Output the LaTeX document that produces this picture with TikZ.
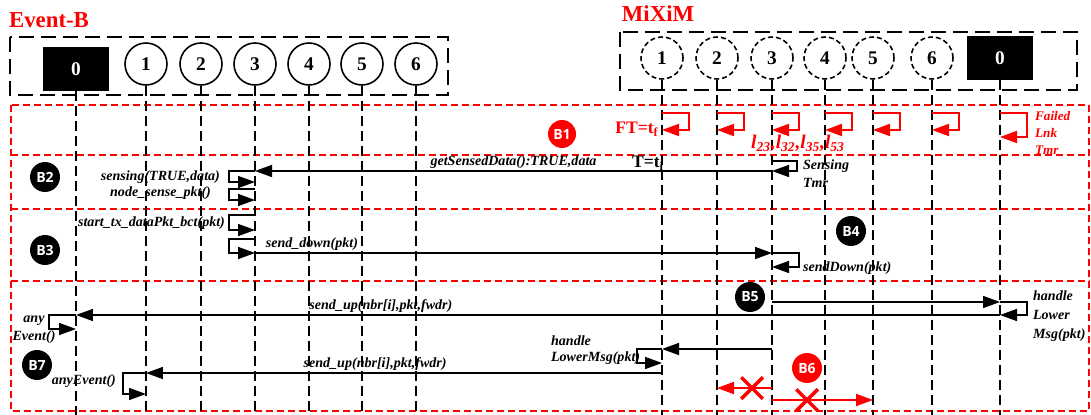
\documentclass[tikz,border=0pt]{standalone}
\usepackage{fontspec}
\setmainfont{Liberation Serif}
\newfontfamily\tagfont{Open Sans}
\usetikzlibrary{arrows.meta,positioning,shapes.misc}

\begin{document}
\begin{tikzpicture}[x=0.02cm,y=-0.02cm,
  grp/.style={draw,line width=1.6pt,dash pattern=on 0.3cm off 0.14cm},
  ndc/.style={circle,draw,line width=0.9pt,minimum size=0.84cm,inner sep=0pt,font=\fontsize{11}{12}\selectfont\bfseries},
  ndd/.style={ndc,dash pattern=on 0.1cm off 0.06cm},
  sink/.style={fill=black,text=white,minimum width=1.32cm,minimum height=0.88cm,inner sep=0pt,font=\fontsize{11}{12}\selectfont\bfseries},
  life/.style={line width=0.85pt,dash pattern=on 0.2cm off 0.1cm},
  zone/.style={draw=red,line width=0.8pt,dash pattern=on 0.14cm off 0.08cm},
  msg/.style={-{Triangle[length=0.34cm,width=0.24cm]},line width=0.9pt},
  rmsg/.style={msg,red,line width=1.1pt},
  lbl/.style={font=\fontsize{8}{10}\selectfont\bfseries\itshape,inner sep=1pt},
  tag/.style={circle,fill=black,text=white,minimum size=0.6cm,inner sep=0pt,font=\tagfont\fontsize{8}{9}\selectfont\bfseries},
  hdr/.style={text=red,font=\fontsize{13}{15}\selectfont\bfseries},
  cross/.style={draw=red,cross out,line width=2pt,minimum size=0.36cm,inner sep=0pt}]
\useasboundingbox (0,0) rectangle (1091,415);
% groups
\node[hdr] (ebt) at (49,20) {Event-B};
\node[hdr] (mxt) at (658,14) {MiXiM};
\draw[grp] (10,37) rectangle (448,95);
\draw[grp] (620,32) rectangle (1077,90);
\node[sink] (eb0) at (76,69) {0};
\foreach \i/\x in {1/146,2/201,3/255,4/309,5/362,6/416}
  \node[ndc] (eb\i) at (\x,64) {\i};
\foreach \i/\x in {1/662,2/717,3/772,4/825,5/873,6/932}
  \node[ndd] (mx\i) at (\x,58) {\i};
\node[sink] (mx0) at (1000,58) {0};
% lifelines and phases
\coordinate (bot) at (0,415);
\draw[zone] (11,105) rectangle (1089,411);
\foreach \y in {155,209,281} \draw[zone] (11,\y) -- (1089,\y);
\foreach \n in {eb0,eb1,eb2,eb3,eb4,eb5,eb6,mx0,mx1,mx2,mx3,mx4,mx5,mx6}
  \draw[life] (\n.south) -- (\n |- bot);
% B1
\node[tag,fill=red,minimum size=0.56cm] (b1) at (562,134) {B1};
\node[text=red,font=\fontsize{10}{12}\selectfont\bfseries] (ft) at (637,129) {FT=t\textsubscript{f}};
\foreach \n in {mx1,mx2,mx3,mx4,mx5,mx6}
  \draw[rmsg] (\n |- 0,113) -- ++(27,0) -- ++(0,17) -- (\n |- 0,130);
\draw[rmsg] (mx0 |- 0,113) -- ++(27,0) -- ++(0,24) -- (mx0 |- 0,137);
\node[text=red,font=\fontsize{11}{12}\selectfont\bfseries\itshape] (lnk) at (798,143) {l\textsubscript{23},l\textsubscript{32},l\textsubscript{35},l\textsubscript{53}};
\node[lbl,text=red,align=left,anchor=west,font=\fontsize{7.5}{9.6}\selectfont\bfseries\itshape] (flt) at (1033,133) {Failed\\Lnk\\Tmr};
% B2
\node[tag] (b2) at (45,177) {B2};
\draw[msg] (mx3 |- 0,171) -- node[lbl,above=0pt] (gsd) {getSensedData():TRUE,data} (eb3 |- 0,171);
\node[font=\fontsize{10}{12}\selectfont\bfseries] (ti) at (648,163) {T=t\textsubscript{i}};
\draw[msg] (mx3 |- 0,161) -- ++(25,0) -- ++(0,10) -- (mx3 |- 0,171);
\node[lbl,align=left,anchor=west,font=\fontsize{8}{10.2}\selectfont\bfseries\itshape] (stm) at (801,174) {Sensing\\Tmr};
\draw[msg] (eb3 |- 0,171) -- ++(-26,0) -- ++(0,11) -- (eb3 |- 0,182);
\node[lbl,anchor=east] (sns) at (222,177) {sensing(TRUE,data)};
\draw[msg] (eb3 |- 0,189) -- ++(-26,0) -- ++(0,11) -- (eb3 |- 0,200);
\node[lbl,anchor=east] (nsp) at (213,193) {node\_sense\_pkt()};
% B3, B4
\node[tag] (b3) at (45,250) {B3};
\node[tag] (b4) at (851,231) {B4};
\draw[msg] (eb3 |- 0,215) -- ++(-26,0) -- ++(0,15) -- (eb3 |- 0,230);
\node[lbl,anchor=east] (stx) at (227,223) {start\_tx\_dataPkt\_bct(pkt)};
\draw[msg] (eb3 |- 0,239) -- ++(-26,0) -- ++(0,14) -- (eb3 |- 0,253);
\draw[msg] (eb3 |- 0,253) -- node[lbl,above=0pt,pos=0.11] (sdn) {send\_down(pkt)} (mx3 |- 0,253);
\draw[msg] (mx3 |- 0,253) -- ++(27,0) -- ++(0,14) -- (mx3 |- 0,267);
\node[lbl,anchor=west] (sdw) at (801,268) {sendDown(pkt)};
% B5, B6, B7
\node[tag] (b5) at (750,297) {B5};
\draw[msg] (mx3 |- 0,302) -- (mx0 |- 0,302);
\draw[msg] (mx0 |- 0,302) -- ++(27,0) -- ++(0,13) -- (mx0 |- 0,315);
\node[lbl,align=left,anchor=west,font=\fontsize{8}{10.8}\selectfont\bfseries\itshape] (hlm) at (1031,316) {handle\\Lower\\Msg(pkt)};
\draw[msg] (mx0 |- 0,315) -- node[lbl,above=0pt,pos=0.67] (su1) {send\_up(nbr[i],pkt,fwdr)} (eb0 |- 0,315);
\draw[msg] (eb0 |- 0,315) -- ++(-27,0) -- ++(0,14) -- (eb0 |- 0,329);
\node[lbl,align=center,font=\fontsize{8}{10.2}\selectfont\bfseries\itshape] (ae1) at (34,330) {any\\Event()};
\draw[msg] (mx3 |- 0,349) -- (mx1 |- 0,349);
\draw[msg] (mx1 |- 0,349) -- ++(-25,0) -- ++(0,14) -- (mx1 |- 0,363);
\node[lbl,align=left,anchor=west,font=\fontsize{8}{9.2}\selectfont\bfseries\itshape] (hl2) at (549,350) {handle\\LowerMsg(pkt)};
\draw[msg] (mx1 |- 0,373) -- node[lbl,above=0pt,pos=0.556] (su2) {send\_up(nbr[i],pkt,fwdr)} (eb1 |- 0,373);
\draw[msg] (eb1 |- 0,373) -- ++(-23,0) -- ++(0,21) -- (eb1 |- 0,394);
\node[lbl,anchor=east] (ae2) at (118,381) {anyEvent()};
\node[tag] (b7) at (37,365) {B7};
\node[tag,fill=red] (b6) at (807,368) {B6};
\draw[rmsg] (mx3 |- 0,388) -- (mx2 |- 0,388);
\draw[rmsg] (mx3 |- 0,400) -- (mx5 |- 0,400);
\node[cross] (x1) at (752,388) {};
\node[cross] (x2) at (807,400) {};
\end{tikzpicture}
\end{document}
